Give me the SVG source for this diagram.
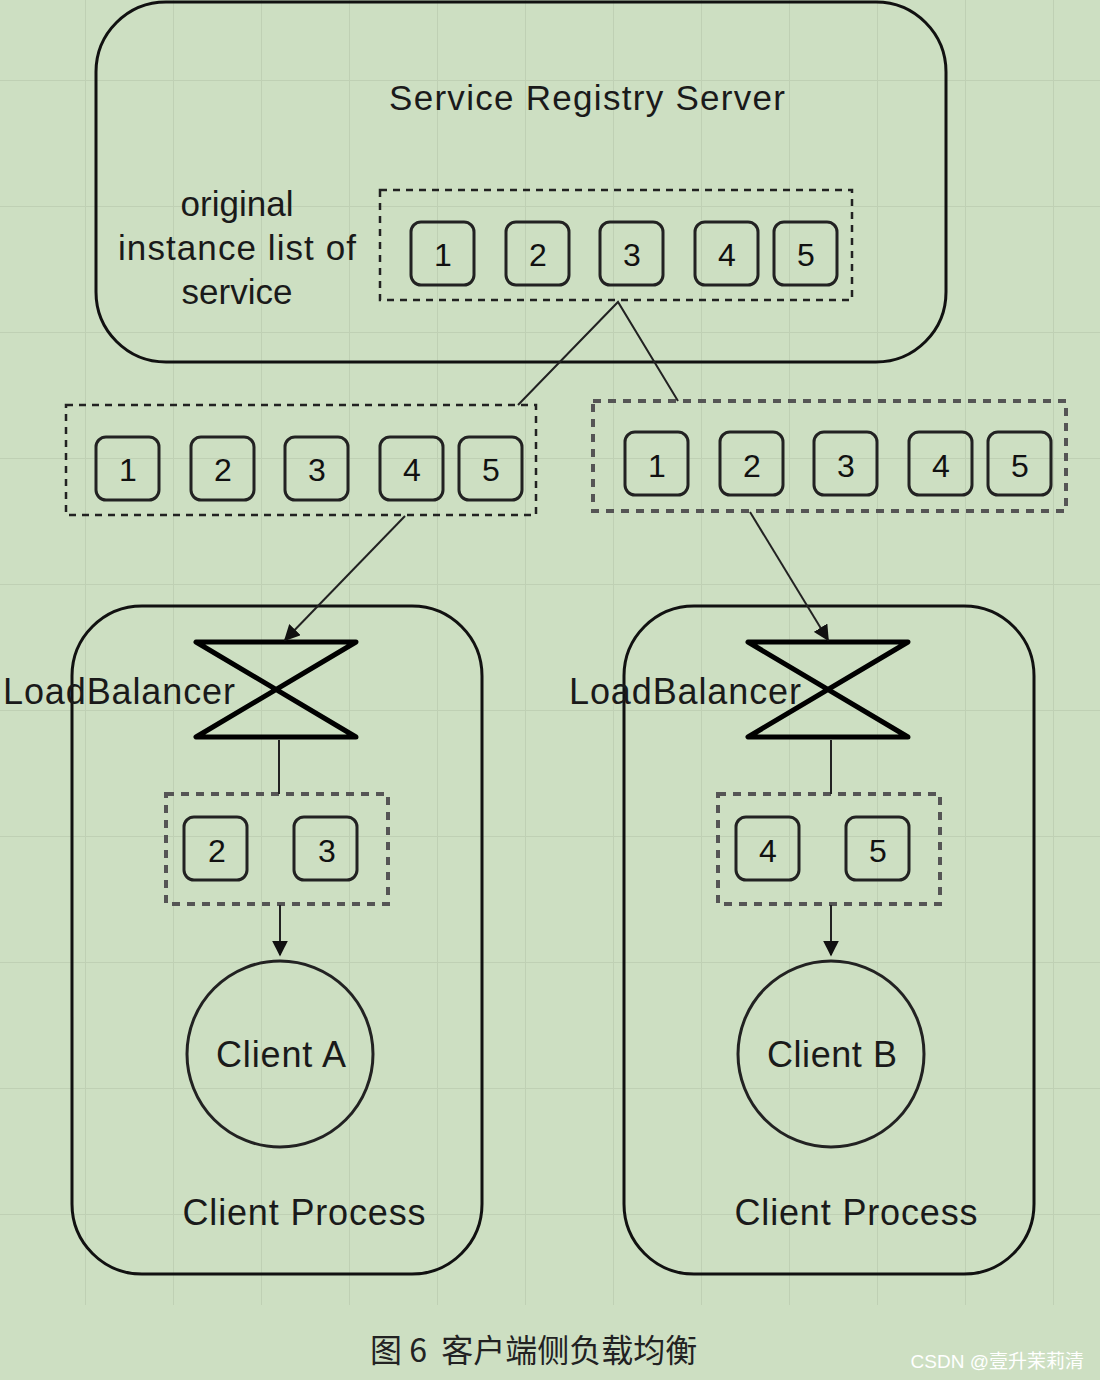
<svg xmlns="http://www.w3.org/2000/svg" width="1100" height="1380" viewBox="0 0 1100 1380">
<defs>
<pattern id="grid" x="85" y="80" width="88" height="126" patternUnits="userSpaceOnUse">
<path d="M0 0V126M0 0H88" fill="none" stroke="#bfd0b4" stroke-width="2"/>
</pattern>
<marker id="ah" viewBox="0 0 10 10" refX="9" refY="5" markerWidth="8" markerHeight="8" orient="auto"><path d="M0 0L10 5L0 10z" fill="#111"/></marker>
</defs>
<style>
.t{font-family:"Liberation Sans",Arial,sans-serif;fill:#1a1a1a}
.box{fill:none;stroke:#111;stroke-width:3}
.nb{fill:none;stroke:#222;stroke-width:3}
.dash{fill:none;stroke:#222;stroke-width:2.5;stroke-dasharray:7 6}
.dash2{fill:none;stroke:#555;stroke-width:4;stroke-dasharray:8 7}
.n{font-family:"Liberation Sans",Arial,sans-serif;font-size:32px;fill:#111;text-anchor:middle}
.ln{stroke:#222;stroke-width:2;fill:none}
</style>
<rect width="1100" height="1380" fill="#cddfc2"/>
<rect width="1100" height="1305" fill="url(#grid)"/>

<g id="registry">
<rect class="box" x="96" y="2" width="850" height="360" rx="70"/>
<text class="t" x="587" y="110" font-size="35" text-anchor="middle" textLength="396">Service Registry Server</text>
<text class="t" font-size="35" text-anchor="middle"><tspan x="237" y="216">original</tspan><tspan x="237" y="260" textLength="238">instance list of</tspan><tspan x="237" y="304">service</tspan></text>
<rect class="dash" x="380" y="190" width="472" height="110"/>
<rect class="nb" x="411" y="222" width="63" height="63" rx="10"/><text class="n" x="443" y="266">1</text>
<rect class="nb" x="506" y="222" width="63" height="63" rx="10"/><text class="n" x="538" y="266">2</text>
<rect class="nb" x="600" y="222" width="63" height="63" rx="10"/><text class="n" x="632" y="266">3</text>
<rect class="nb" x="695" y="222" width="63" height="63" rx="10"/><text class="n" x="727" y="266">4</text>
<rect class="nb" x="774" y="222" width="63" height="63" rx="10"/><text class="n" x="806" y="266">5</text>
</g>

<g id="listA">
<rect class="dash" x="66" y="405" width="470" height="110"/>
<rect class="nb" x="96" y="437" width="63" height="63" rx="10"/><text class="n" x="128" y="481">1</text>
<rect class="nb" x="191" y="437" width="63" height="63" rx="10"/><text class="n" x="223" y="481">2</text>
<rect class="nb" x="285" y="437" width="63" height="63" rx="10"/><text class="n" x="317" y="481">3</text>
<rect class="nb" x="380" y="437" width="63" height="63" rx="10"/><text class="n" x="412" y="481">4</text>
<rect class="nb" x="459" y="437" width="63" height="63" rx="10"/><text class="n" x="491" y="481">5</text>
</g>

<g id="listB">
<rect class="dash2" x="593" y="401" width="473" height="110"/>
<rect class="nb" x="625" y="432" width="63" height="63" rx="10" stroke-width="4"/><text class="n" x="657" y="477">1</text>
<rect class="nb" x="720" y="432" width="63" height="63" rx="10" stroke-width="4"/><text class="n" x="752" y="477">2</text>
<rect class="nb" x="814" y="432" width="63" height="63" rx="10" stroke-width="4"/><text class="n" x="846" y="477">3</text>
<rect class="nb" x="909" y="432" width="63" height="63" rx="10" stroke-width="4"/><text class="n" x="941" y="477">4</text>
<rect class="nb" x="988" y="432" width="63" height="63" rx="10" stroke-width="4"/><text class="n" x="1020" y="477">5</text>
</g>

<g id="processA">
<rect class="box" x="72" y="606" width="410" height="668" rx="70" stroke="#333"/>
<path d="M196 642H356L196 737H356Z" fill="none" stroke="#000" stroke-width="5" stroke-linejoin="round"/>
<text class="t" x="3" y="704" font-size="36" textLength="232">LoadBalancer</text>
<rect class="dash2" x="166" y="794" width="222" height="110"/>
<rect class="nb" x="184" y="817" width="63" height="63" rx="10" stroke="#444" stroke-width="4"/><text class="n" x="217" y="862">2</text>
<rect class="nb" x="294" y="817" width="63" height="63" rx="10" stroke="#444" stroke-width="4"/><text class="n" x="327" y="862">3</text>
<circle cx="280" cy="1054" r="93" class="nb"/>
<text class="t" x="281" y="1067" font-size="36" text-anchor="middle" textLength="130">Client A</text>
<text class="t" x="304" y="1225" font-size="36" text-anchor="middle" textLength="243">Client Process</text>
</g>

<g id="processB">
<rect class="box" x="624" y="606" width="410" height="668" rx="70" stroke="#333"/>
<path d="M748 642H908L748 737H908Z" fill="none" stroke="#000" stroke-width="5" stroke-linejoin="round"/>
<text class="t" x="569" y="704" font-size="36" textLength="232">LoadBalancer</text>
<rect class="dash2" x="718" y="794" width="222" height="110"/>
<rect class="nb" x="736" y="817" width="63" height="63" rx="10" stroke="#444" stroke-width="4"/><text class="n" x="768" y="862">4</text>
<rect class="nb" x="846" y="817" width="63" height="63" rx="10" stroke="#444" stroke-width="4"/><text class="n" x="878" y="862">5</text>
<circle cx="831" cy="1054" r="93" class="nb"/>
<text class="t" x="832" y="1067" font-size="36" text-anchor="middle" textLength="130">Client B</text>
<text class="t" x="856" y="1225" font-size="36" text-anchor="middle" textLength="243">Client Process</text>
</g>

<g id="connectors">
<path class="ln" d="M518 405L618 302L678 401"/>
<path class="ln" d="M405 516L285 640" marker-end="url(#ah)"/>
<path class="ln" d="M750 512L828 640" marker-end="url(#ah)"/>
<path class="ln" d="M279 740V794"/>
<path class="ln" d="M280 905V955" marker-end="url(#ah)"/>
<path class="ln" d="M831 740V794"/>
<path class="ln" d="M831 905V955" marker-end="url(#ah)"/>
</g>

<text x="370" y="1362" font-size="32" font-family="'Noto Sans CJK SC',sans-serif" fill="#222" xml:space="preserve">图 6  客户端侧负载均衡</text>
<text x="1084" y="1368" font-size="19" font-family="'Liberation Sans','Noto Sans CJK SC',sans-serif" fill="#fff" text-anchor="end">CSDN @壹升茉莉清</text>
</svg>
